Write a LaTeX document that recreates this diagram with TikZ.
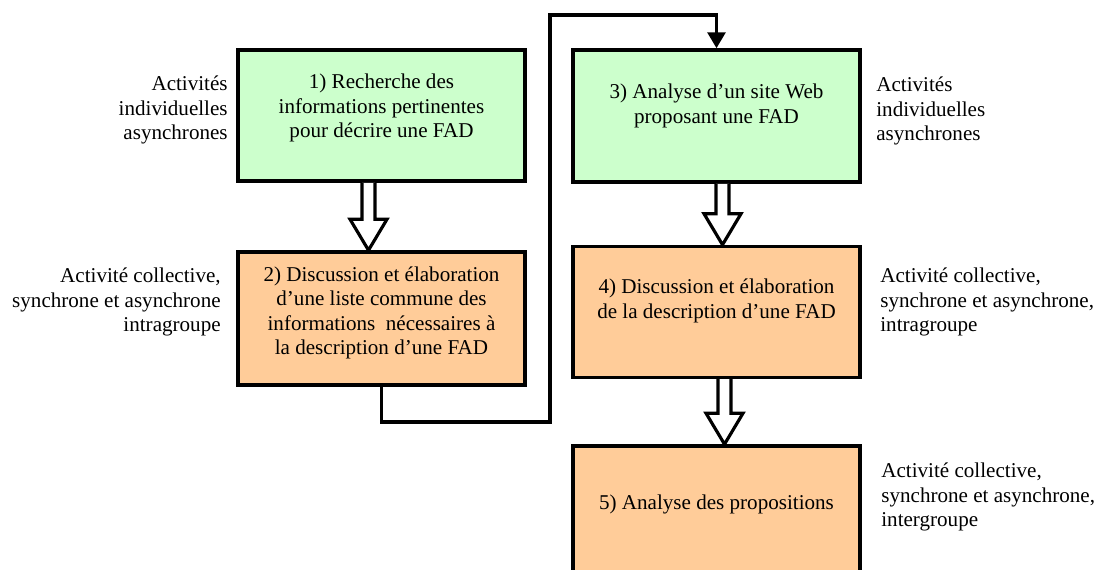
\documentclass[tikz,border=0pt]{standalone}
\usepackage{fontspec}
\setmainfont{Liberation Serif}
\usetikzlibrary{arrows.meta, positioning, calc}

\definecolor{stepgreen}{HTML}{CCFFCC}
\definecolor{steporange}{HTML}{FFCC99}

\begin{document}
\begin{tikzpicture}[
  x=0.02cm, y=-0.02cm,
  box/.style = {draw, line width=2pt, minimum width=5.74cm, minimum height=2.62cm, align=center, font=\fontsize{12}{14}\selectfont},
  indiv/.style = {box, fill=stepgreen},
  collect/.style = {box, fill=steporange},
  note/.style = {align=#1, inner sep=0pt, font=\fontsize{12}{14}\selectfont},
  link/.style = {line width=2pt, -{Triangle[width=10pt, length=9pt]}},
  hollow/.style = {draw, line width=1.8pt, fill=white, line join=miter}
]

  \useasboundingbox (0,0) rectangle (1101,569);
  \clip (0,0) rectangle (1101,569);

  % Steps
  \node[indiv, text depth=11.1pt] (b1) at (381.5,115.5) {1) Recherche des\\informations pertinentes\\pour décrire une FAD};
  \node[collect, minimum height=2.66cm, text depth=8.9pt, below=1.35cm of b1] (b2) {2) Discussion et élaboration\\d’une liste commune des\\informations\ \ nécessaires à\\la description d’une FAD};
  \node[indiv, minimum height=2.64cm, text depth=13.9pt] (b3) at (716.5,116) {3) Analyse d’un site Web\\proposant une FAD};
  \node[collect, text depth=15.1pt, below=1.22cm of b3] (b4) {4) Discussion et élaboration\\de la description d’une FAD};
  \node[collect, text depth=11.1pt, below=1.3cm of b4] (b5) {5) Analyse des propositions};

  % Side notes
  \node[note=right, anchor=east] (n1) at (228,110) {Activités\\individuelles\\asynchrones};
  \node[note=right, anchor=east] (n2) at (221,302) {Activité collective,\\synchrone et asynchrone\\intragroupe};
  \node[note=left, anchor=west] (n3) at (876,111) {Activités\\individuelles\\asynchrones};
  \node[note=left, anchor=west] (n4) at (880,302) {Activité collective,\\synchrone et asynchrone,\\intragroupe};
  \node[note=left, anchor=west] (n5) at (881,497) {Activité collective,\\synchrone et asynchrone,\\intergroupe};

  % Hollow arrows
  \foreach \a/\b/\dx in {b1/b2/-13, b3/b4/6, b4/b5/8}
    \draw[hollow] ($(\a.south)+(\dx-6.5,0)$) -- ($(\b.north)+(\dx-6.5,-31)$)
      -- ($(\b.north)+(\dx-18.5,-31)$) -- ($(\b.north)+(\dx,0)$)
      -- ($(\b.north)+(\dx+18.5,-31)$) -- ($(\b.north)+(\dx+6.5,-31)$)
      -- ($(\a.south)+(\dx+6.5,0)$);

  % Loop back
  \coordinate (lowbend) at (550,422);
  \coordinate (topbend) at (550,15);
  \draw[link] (b2.south) |- (lowbend) -- (topbend) -| (b3.north);

\end{tikzpicture}
\end{document}
